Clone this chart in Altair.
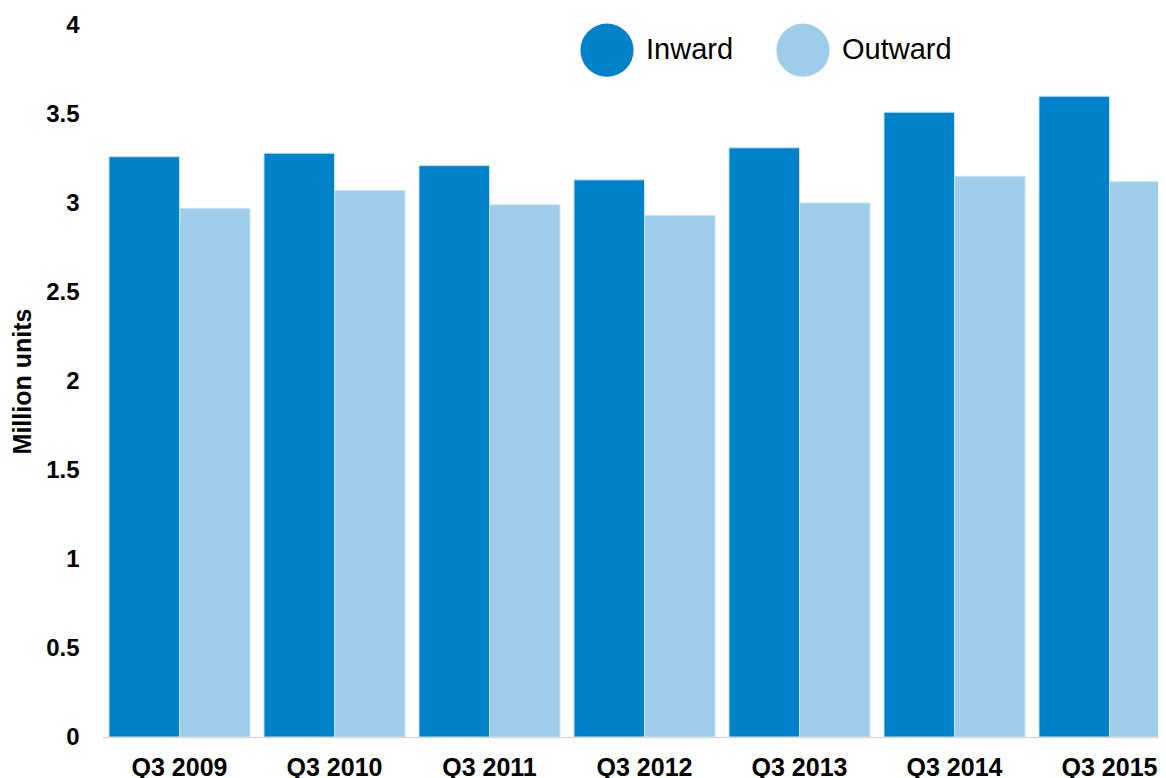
import altair as alt
import pandas as pd

quarters = ["Q3 2009", "Q3 2010", "Q3 2011", "Q3 2012", "Q3 2013", "Q3 2014", "Q3 2015"]
inward = [3.26, 3.28, 3.21, 3.13, 3.31, 3.51, 3.60]
outward = [2.97, 3.07, 2.99, 2.93, 3.00, 3.15, 3.12]
series = ["Inward", "Outward"]
colors = ["#0082CA", "#9DCDEA"]
y_ticks = [0, 0.5, 1, 1.5, 2, 2.5, 3, 3.5, 4]

rows = []
for q, a, b in zip(quarters, inward, outward):
    rows.append({"quarter": q, "series": "Inward", "value": a})
    rows.append({"quarter": q, "series": "Outward", "value": b})
df = pd.DataFrame(rows)

FONT = "Liberation Sans"

chart = alt.Chart(df).mark_bar(clip=True, stroke="#c8e4f4", strokeWidth=1).encode(
    x=alt.X(
        "quarter:N", sort=quarters,
        scale=alt.Scale(range=[0, 1085], paddingInner=0.09, paddingOuter=0.045),
        axis=alt.Axis(title=None, labelAngle=0, labelFont=FONT, labelFontSize=25,
                      labelFontWeight="bold", labelColor="black", labelPadding=18,
                      ticks=False, tickSize=0, domainColor="#d9d9d9", domainWidth=1.5),
    ),
    xOffset=alt.XOffset("series:N", sort=series,
                        scale=alt.Scale(paddingInner=0, paddingOuter=0)),
    y=alt.Y(
        "value:Q",
        scale=alt.Scale(domain=[0, 4], nice=False),
        axis=alt.Axis(values=y_ticks, format="~g", title="Million  units", grid=False,
                      domain=False, ticks=False, tickSize=0, labelPadding=23,
                      labelFont=FONT, labelFontSize=24, labelFontWeight="bold",
                      labelColor="black", titleFont=FONT, titleFontSize=25,
                      titleFontWeight="bold", titleColor="black", titlePadding=10),
    ),
    color=alt.Color(
        "series:N", sort=series,
        scale=alt.Scale(domain=series, range=colors),
        legend=alt.Legend(title=None, orient="none", legendX=478, legendY=-2,
                          direction="horizontal", symbolType="circle", symbolSize=2827,
                          symbolStrokeWidth=0, symbolOpacity=1, labelFont=FONT,
                          labelFontSize=29, labelColor="black", labelOffset=12,
                          columnPadding=42, padding=0),
    ),
).properties(
    width=1056, height=712,
    autosize=alt.AutoSizeParams(type="none"),
    padding={"left": 94, "top": 17, "right": 0, "bottom": 41},
).configure_view(stroke=None)

chart.save("out.html", embed_options={"renderer": "svg", "actions": False})
